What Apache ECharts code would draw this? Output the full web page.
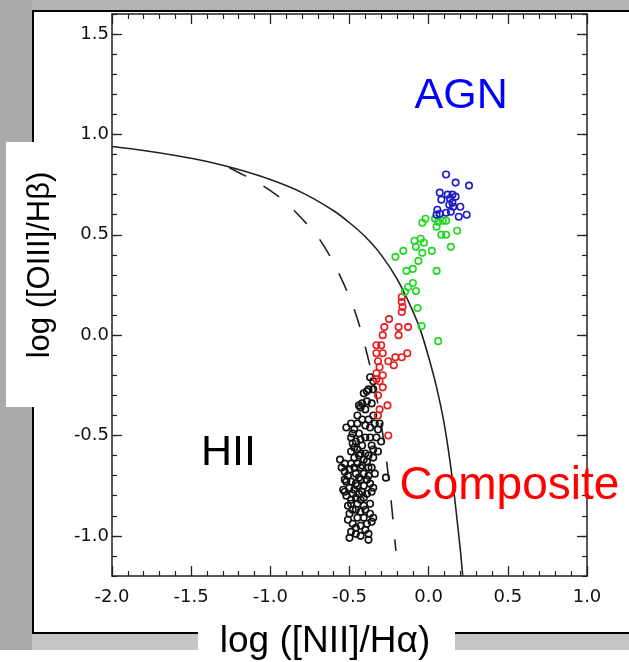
<!DOCTYPE html>
<html>
<head>
<meta charset="utf-8">
<script src="https://cdn.jsdelivr.net/npm/echarts@6/dist/echarts.min.js"></script>
<style>
html, body { margin: 0; padding: 0; background: #fff; }
#page { position: relative; width: 629px; height: 662px; overflow: hidden; background: #fff; }
.bg { position: absolute; }
#chart { position: absolute; left: 0; top: 0; width: 629px; height: 662px; }
</style>
</head>
<body>
<div id="page">
  <div class="bg" style="left:0;top:0;width:629px;height:10px;background:#b3b3b3"></div>
  <div class="bg" style="left:0;top:0;width:32px;height:650px;background:#aaaaaa"></div>
  <div class="bg" style="left:32px;top:634px;width:597px;height:16px;background:#c6c6c6"></div>
  <div class="bg" style="left:32px;top:10px;width:595px;height:620px;background:#fff;border-top:2px solid #000;border-left:2px solid #000;border-bottom:2px solid #000"></div>
  <div id="chart"></div>
</div>
<script>
// ── BPT diagram: [OIII]/Hb vs [NII]/Ha ──

const xName = 'log ([NII]/Hα)';
const yName = 'log ([OIII]/Hβ)';
const yLabelValues = [-1.0, -0.5, 0.0, 0.5, 1.0, 1.5];

// demarcation curves
const kewleyLine = [[-2.0, 0.94], [-1.8, 0.92], [-1.6, 0.895], [-1.4, 0.865], [-1.2, 0.825], [-1.0, 0.775],
  [-0.8, 0.71], [-0.6, 0.62], [-0.5, 0.56], [-0.4, 0.49], [-0.3, 0.40], [-0.2, 0.28], [-0.1, 0.12],
  [-0.05, 0.02], [0.0, -0.11], [0.05, -0.26], [0.1, -0.45], [0.15, -0.72], [0.2, -1.07], [0.215, -1.2]];
const kauffmannLine = [[-1.26, 0.835], [-1.2, 0.81], [-1.1, 0.77], [-1.0, 0.72], [-0.9, 0.66], [-0.8, 0.58],
  [-0.7, 0.49], [-0.6, 0.36], [-0.5, 0.19], [-0.45, 0.08], [-0.4, -0.06], [-0.35, -0.225], [-0.3, -0.44],
  [-0.25, -0.73], [-0.207, -1.075]];

const hiiPoints = [[-0.37, -0.21], [-0.35, -0.23], [-0.38, -0.27], [-0.35, -0.27], [-0.39, -0.28], [-0.41, -0.29],
  [-0.44, -0.35], [-0.42, -0.34], [-0.40, -0.37], [-0.43, -0.36], [-0.49, -0.44], [-0.52, -0.46], [-0.45, -0.44],
  [-0.42, -0.42], [-0.38, -0.42], [-0.35, -0.40], [-0.34, -0.44], [-0.31, -0.44], [-0.37, -0.46], [-0.48, -0.49],
  [-0.49, -0.51], [-0.43, -0.52], [-0.40, -0.51], [-0.37, -0.51], [-0.33, -0.51], [-0.30, -0.53], [-0.48, -0.54],
  [-0.42, -0.55], [-0.45, -0.57], [-0.49, -0.58], [-0.40, -0.59], [-0.35, -0.57], [-0.43, -0.59], [-0.41, -0.62],
  [-0.56, -0.62], [-0.53, -0.64], [-0.49, -0.64], [-0.45, -0.64], [-0.39, -0.63], [-0.35, -0.61], [-0.50, -0.67],
  [-0.43, -0.66], [-0.36, -0.66], [-0.53, -0.68], [-0.46, -0.69], [-0.41, -0.69], [-0.34, -0.69], [-0.27, -0.71],
  [-0.49, -0.73], [-0.43, -0.72], [-0.39, -0.72], [-0.50, -0.76], [-0.45, -0.75], [-0.37, -0.74], [-0.35, -0.76],
  [-0.53, -0.78], [-0.48, -0.79], [-0.42, -0.78], [-0.36, -0.78], [-0.52, -0.80], [-0.49, -0.82], [-0.41, -0.81],
  [-0.54, -0.77], [-0.49, -0.84], [-0.45, -0.84], [-0.37, -0.84], [-0.48, -0.87], [-0.43, -0.88], [-0.40, -0.87],
  [-0.37, -0.89], [-0.35, -0.91], [-0.50, -0.89], [-0.48, -0.94], [-0.43, -0.95], [-0.39, -0.94], [-0.49, -0.98],
  [-0.46, -0.99], [-0.50, -1.01], [-0.38, -0.99], [-0.38, -1.02],
  [-0.47, -0.47], [-0.44, -0.49], [-0.46, -0.53], [-0.44, -0.60], [-0.47, -0.61], [-0.42, -0.65], [-0.38, -0.66],
  [-0.47, -0.66], [-0.51, -0.70], [-0.44, -0.71], [-0.38, -0.70], [-0.52, -0.73], [-0.46, -0.74], [-0.41, -0.75],
  [-0.47, -0.77], [-0.44, -0.79], [-0.39, -0.79], [-0.46, -0.81], [-0.43, -0.82], [-0.51, -0.85], [-0.41, -0.85],
  [-0.46, -0.87], [-0.51, -0.92], [-0.45, -0.91], [-0.41, -0.91], [-0.36, -0.93], [-0.46, -0.96], [-0.40, -0.97],
  [-0.43, -1.00], [-0.40, -0.45], [-0.45, -0.40], [-0.39, -0.33], [-0.36, -0.34], [-0.32, -0.47], [-0.53, -0.72],
  [-0.55, -0.66], [-0.36, -0.55], [-0.32, -0.58], [-0.38, -0.60], [-0.47, -0.56]];
const compositePoints = [[-0.17, 0.19], [-0.17, 0.165], [-0.165, 0.14], [-0.17, 0.115], [-0.25, 0.08], [-0.28, 0.04],
  [-0.19, 0.04], [-0.13, 0.04], [-0.29, 0.0], [-0.19, 0.0], [-0.33, -0.05], [-0.30, -0.05], [-0.33, -0.09],
  [-0.29, -0.09], [-0.135, -0.09], [-0.17, -0.11], [-0.21, -0.11], [-0.255, -0.13], [-0.22, -0.15], [-0.32, -0.13],
  [-0.31, -0.16], [-0.33, -0.19], [-0.33, -0.22], [-0.29, -0.20], [-0.31, -0.23], [-0.29, -0.26], [-0.32, -0.30],
  [-0.26, -0.35], [-0.31, -0.37], [-0.32, -0.40], [-0.255, -0.50]];
const transitionPoints = [[-0.02, 0.58], [-0.04, 0.56], [0.04, 0.58], [0.06, 0.565], [0.09, 0.57], [0.11, 0.57],
  [0.05, 0.54], [0.08, 0.50], [0.11, 0.50], [0.18, 0.52], [-0.09, 0.47], [-0.05, 0.48], [-0.03, 0.46], [-0.08, 0.44],
  [-0.16, 0.42], [0.02, 0.42], [0.14, 0.44], [-0.21, 0.39], [-0.04, 0.41], [-0.065, 0.37], [-0.10, 0.33],
  [-0.14, 0.32], [0.05, 0.32], [-0.10, 0.26], [-0.13, 0.24], [-0.08, 0.22], [-0.15, 0.215], [-0.07, 0.135],
  [-0.045, 0.045], [0.06, -0.03]];
const agnPoints = [[0.11, 0.80], [0.17, 0.76], [0.255, 0.745], [0.07, 0.71], [0.12, 0.70], [0.15, 0.70], [0.17, 0.69],
  [0.08, 0.675], [0.135, 0.68], [0.15, 0.66], [0.13, 0.65], [0.20, 0.64], [0.055, 0.625], [0.11, 0.61], [0.14, 0.615],
  [0.07, 0.605], [0.24, 0.60], [0.19, 0.59], [0.155, 0.64], [0.05, 0.60]];

const regionNames = ['AGN', 'HII', 'Composite'];
const regionPos = [[0.205, 1.19], [-1.265, -0.59], [0.51, -0.755]];
const regionColors = ['#0000ff', '#000000', '#ff0000'];
const regionSizes = [43, 43, 46];

const tickFont = 'DejaVu Sans';
const axisColor = '#222';

function xAx(pos, labels) {
  return {
    type: 'value', position: pos, min: -2, max: 1, interval: 0.5,
    axisLine: { show: true, onZero: false, lineStyle: { color: axisColor, width: 1.5 } },
    axisTick: { show: true, inside: true, length: 10, lineStyle: { color: axisColor, width: 1.3 } },
    minorTick: { show: true, splitNumber: 5, length: 5, lineStyle: { color: axisColor, width: 1.2 } },
    axisLabel: { show: labels, margin: 12, color: '#111', fontFamily: tickFont, fontSize: 18, formatter: v => v.toFixed(1) },
    splitLine: { show: false }, minorSplitLine: { show: false },
  };
}

function yMajor(pos, labels) {
  return {
    type: 'value', position: pos, min: -1.2, max: 1.6, interval: 0.1,
    axisLine: { show: true, onZero: false, lineStyle: { color: axisColor, width: 1.5 } },
    axisTick: { show: true, inside: true, length: 10, customValues: yLabelValues, lineStyle: { color: axisColor, width: 1.3 } },
    axisLabel: { show: labels, margin: 3, color: '#111', fontFamily: tickFont, fontSize: 18, customValues: yLabelValues, formatter: v => v.toFixed(1) },
    splitLine: { show: false },
  };
}

function yMinor(pos) {
  return {
    type: 'value', position: pos, min: -1.2, max: 1.6, interval: 0.1,
    axisLine: { show: false, onZero: false },
    axisTick: { show: true, inside: true, length: 5, lineStyle: { color: axisColor, width: 1.2 } },
    axisLabel: { show: false },
    splitLine: { show: false },
  };
}

function pts(name, data, color) {
  return {
    name, type: 'scatter', data, symbol: 'circle', symbolSize: 6.5,
    itemStyle: { color: 'rgba(0,0,0,0)', borderColor: color, borderWidth: 1.6, opacity: 1 },
    emphasis: { disabled: true }, z: 3,
  };
}

const chart = echarts.init(document.getElementById('chart'), null, { renderer: 'canvas' });
chart.setOption({
  animation: false,
  backgroundColor: 'transparent',
  grid: { left: 112, top: 14, width: 475, height: 562, containLabel: false },
  xAxis: [xAx('bottom', true), xAx('top', false)],
  yAxis: [yMajor('left', true), yMinor('left'), yMajor('right', false), yMinor('right')],
  series: [
    {
      type: 'line', data: kewleyLine, smooth: 0.3, showSymbol: false, silent: true,
      lineStyle: { color: '#222', width: 1.6 }, z: 2,
    },
    {
      type: 'line', data: kauffmannLine, smooth: 0.3, showSymbol: false, silent: true,
      lineStyle: { color: '#222', width: 1.6, type: [19, 20] }, z: 2,
    },
    pts('HII', hiiPoints, '#111111'),
    pts('Composite', compositePoints, '#e41e1e'),
    pts('Transition', transitionPoints, '#1ed81e'),
    pts('AGN', agnPoints, '#1c1cc8'),
    {
      type: 'scatter', symbolSize: 0, silent: true, z: 4,
      itemStyle: { opacity: 1 },
      data: regionNames.map((n, i) => ({
        name: n, value: regionPos[i],
        label: { color: regionColors[i], fontSize: regionSizes[i] },
      })),
      label: {
        show: true, position: 'inside', formatter: p => p.name, opacity: 1,
        fontFamily: 'Liberation Sans', align: 'center', verticalAlign: 'middle',
      },
    },
  ],
  graphic: [
    { type: 'rect', shape: { x: 6, y: 142, width: 52, height: 265 }, style: { fill: '#fff' }, z: 100 },
    {
      type: 'text', x: 40, y: 265, rotation: Math.PI / 2, z: 101,
      style: { text: yName, font: '31px "Liberation Sans"', fill: '#000', align: 'center', verticalAlign: 'middle' },
    },
    { type: 'rect', shape: { x: 198, y: 628, width: 257, height: 34 }, style: { fill: '#fff' }, z: 100 },
    {
      type: 'text', x: 325, y: 642, z: 101,
      style: { text: xName, font: '37px "Liberation Sans"', fill: '#000', align: 'center', verticalAlign: 'middle' },
    },
  ],
});
</script>
</body>
</html>
